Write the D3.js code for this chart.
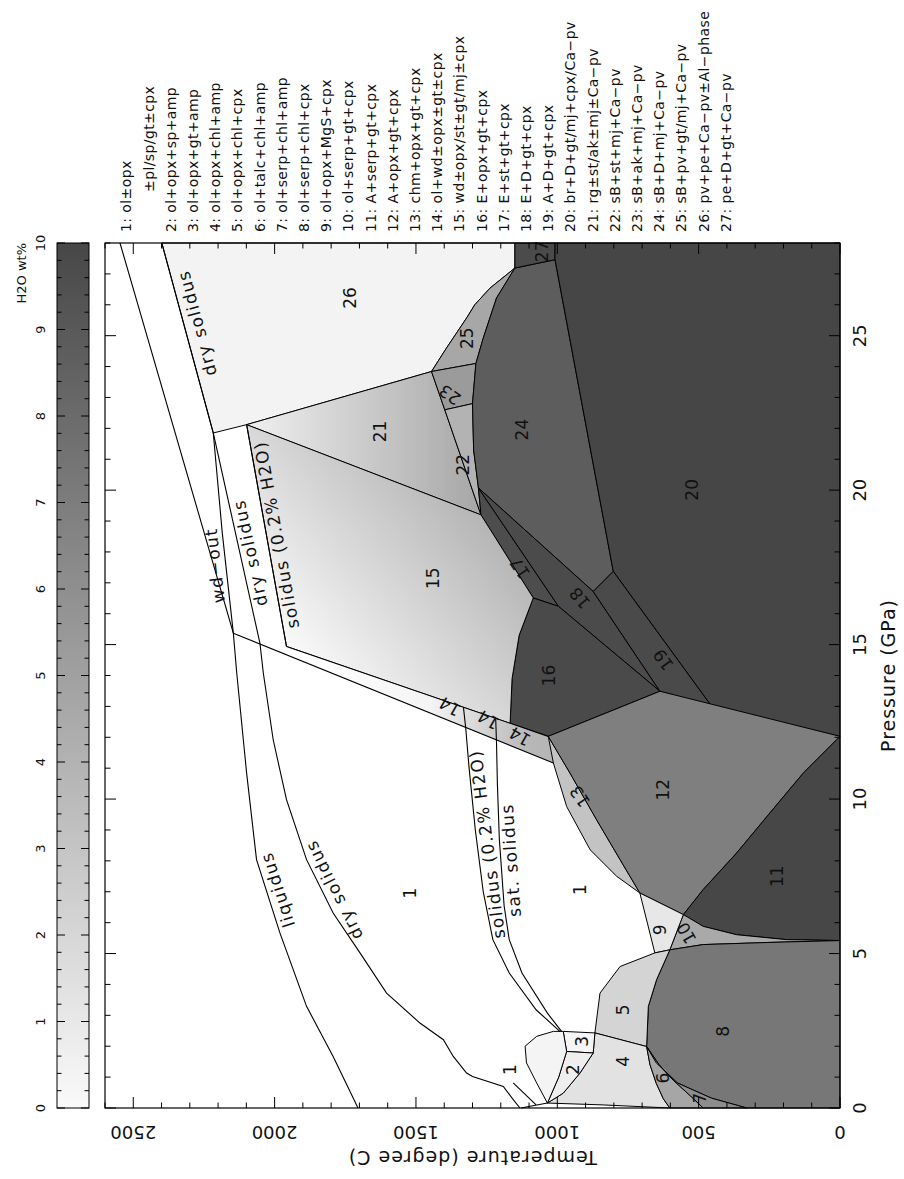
<!DOCTYPE html>
<html>
<head>
<meta charset="utf-8">
<title>Phase relations, H2O wt%</title>
<script src="https://d3js.org/d3.v7.min.js"></script>
<style>
  body { margin: 0; background: #fff; }
  svg { display: block; }
  text { font-family: "DejaVu Sans", sans-serif; fill: #111; }
</style>
</head>
<body>
<div id="chart"></div>
<script>
// all boundaries as [pressure GPa, temperature C]
const pressureTicks = [0, 5, 10, 15, 20, 25];
const temperatureTicks = [0, 500, 1000, 1500, 2000, 2500];
const waterTicks = [0, 1, 2, 3, 4, 5, 6, 7, 8, 9, 10];

const legendLines = [
  "1: ol±opx", "±pl/sp/gt±cpx",
  "2: ol+opx+sp+amp", "3: ol+opx+gt+amp", "4: ol+opx+chl+amp",
  "5: ol+opx+chl+cpx", "6: ol+talc+chl+amp", "7: ol+serp+chl+amp",
  "8: ol+serp+chl+cpx", "9: ol+opx+MgS+cpx", "10: ol+serp+gt+cpx",
  "11: A+serp+gt+cpx", "12: A+opx+gt+cpx", "13: chm+opx+gt+cpx",
  "14: ol+wd±opx±gt±cpx", "15: wd±opx/st±gt/mj±cpx", "16: E+opx+gt+cpx",
  "17: E+st+gt+cpx", "18: E+D+gt+cpx", "19: A+D+gt+cpx",
  "20: br+D+gt/mj+cpx/Ca−pv", "21: rg±st/ak±mj±Ca−pv", "22: sB+st+mj+Ca−pv",
  "23: sB+ak+mj+Ca−pv", "24: sB+D+mj+Ca−pv", "25: sB+pv+gt/mj+Ca−pv",
  "26: pv+pe+Ca−pv±Al−phase", "27: pe+D+gt+Ca−pv"
];

const liquidus = [[0,1705],[1.67,1793],[3.29,1887],[5.66,1981],[8.04,2064],[10.84,2099],[14.08,2134],[15.37,2146],[28,2547]];
const drySolidus = [[0,1132],[0.27,1156],[0.70,1191],[1.02,1300],[1.13,1321],[1.67,1368],[2.21,1403],[2.75,1486],[3.72,1604],[5.02,1698],[6.31,1793],[8.04,1887],[9.98,1958],[11.92,2005],[14.08,2040],[15.05,2052],[21.85,2217],[28,2399]];
const wdOut = [[15.37,2146],[18.6,2185],[21.85,2217]];
const solidusUpper = [[14.94,1958],[18.5,2028],[22.12,2099]];
const solidusLower = [[2.48,991],[3.18,1075],[4.37,1170],[5.45,1228],[7.0,1262],[9.0,1290],[11.0,1312],[12.3,1324],[12.97,1332]];
const satSolidus = [[2.48,985],[3.07,1035],[4.37,1125],[5.45,1170],[6.53,1188],[8.69,1205],[10.5,1212],[11.8,1215],[12.61,1218]];
const wedgeLineA = [[15.37,2146],[11.17,1014]];
const wedgeLineB = [[14.94,1958],[12.03,1032]];
const leaderOne = [[0.81,1156],[0.1,1075]];
const lensFoot = [[0.16,1035],[0,1128]];

const field20 = [[28,1008],[28,0],[12.03,0],[13.0,454],[17.37,802],[27.46,1008]];
const field27 = [[28,1150],[28,1008],[27.46,1008],[27.19,1150]];
const field24 = [[27.46,1008],[27.19,1150],[26.22,1215],[24.92,1262],[24.1,1288],[22.8,1300],[21.3,1296],[20.07,1279],[16.72,873],[17.37,802]];
const field25 = [[23.84,1445],[24.6,1392],[25.57,1321],[26.0,1292],[26.54,1238],[27.19,1150],[26.22,1215],[24.92,1262],[24.1,1288]];
const field23 = [[23.84,1445],[24.1,1288],[22.8,1300],[22.6,1398]];
const field22 = [[22.6,1398],[22.8,1300],[21.3,1296],[20.07,1279],[19.2,1270]];
const field21 = [[22.12,2099],[23.84,1445],[22.6,1398],[19.2,1270]];
const field26 = [[21.85,2217],[28,2399],[28,1150],[27.19,1150],[26.54,1238],[26.0,1292],[25.57,1321],[24.6,1392],[23.84,1445],[22.12,2099]];
const field17 = [[16.51,1085],[19.2,1270],[20.07,1279],[16.24,996]];
const field18 = [[20.07,1279],[16.72,873],[13.49,637],[16.24,996]];
const field19 = [[16.72,873],[17.37,802],[13.0,454],[13.49,637]];
const field16 = [[12.45,1167],[13.9,1160],[15.3,1135],[16.51,1085],[16.24,996],[13.49,637],[12.03,1032]];
const field15 = [[22.12,2099],[19.2,1270],[16.51,1085],[15.3,1135],[13.9,1160],[12.45,1167],[14.94,1958]];
const field14 = [[15.37,2146],[11.17,1014],[12.03,1032],[12.45,1167],[14.94,1958]];
const field12 = [[12.03,1032],[13.49,637],[12.03,0],[10.84,130],[9.55,248],[8.25,366],[7.07,484],[6.26,554],[6.96,708],[8.04,778],[9.33,861],[10.84,955]];
const field13 = [[11.17,1014],[12.03,1032],[10.84,955],[9.33,861],[8.04,778],[6.96,708],[7.5,790],[8.36,884],[9.76,967]];
const field11 = [[12.03,0],[10.84,130],[9.55,248],[8.25,366],[7.07,484],[6.26,554],[5.88,484],[5.61,366],[5.45,189],[5.42,0]];
const field10 = [[6.26,554],[5.88,484],[5.61,366],[5.45,189],[5.42,0],[5.36,248],[5.29,484],[5.12,602]];
const field9 = [[6.96,708],[6.26,554],[5.12,602],[5.02,655]];
const field8 = [[5.42,0],[5.36,248],[5.29,484],[5.12,602],[4.15,649],[3.29,678],[1.99,684],[1.46,650],[0.81,575],[0.32,455],[0,330],[0,0]];
const field5 = [[5.02,655],[4.58,778],[3.72,849],[2.43,867],[1.99,684],[3.29,678],[4.15,649],[5.12,602]];
const field4 = [[2.43,867],[1.99,684],[1.4,672],[0.8,650],[0.3,625],[0,602],[0.1,837],[0.16,1035],[0.48,979],[1.13,920],[1.78,873]];
const field6 = [[1.99,684],[1.4,672],[0.8,650],[0.3,625],[0,602],[0,484],[0.4,530],[0.9,590],[1.4,640]];
const field7 = [[1.99,684],[1.4,640],[0.9,590],[0.4,530],[0,484],[0,330],[0.32,455],[0.81,575],[1.46,650]];
const field3 = [[2.48,979],[2.43,867],[1.78,873],[1.83,967]];
const field2 = [[1.83,967],[1.78,873],[1.13,920],[0.48,979],[0.16,1035],[1.0,995]];
const fieldLens = [[2.48,979],[1.83,967],[1.0,995],[0.16,1035],[0.81,1073],[1.46,1109],[2.0,1114],[2.32,1073],[2.48,1014]];

// field number labels: [text, P, T]
const fieldLabels = [
  ["26",26.22,1734],["25",24.92,1321],["21",21.9,1628],["23",23.09,1380],["22",20.82,1333],
  ["15",17.15,1439],["14",13.0,1380],["14",12.57,1244],["14",12.03,1132],["27",27.73,1055],
  ["24",21.96,1126],["20",20.01,525],["17",17.48,1132],["18",16.51,920],["19",14.51,625],
  ["16",14.0,1030],["1",6.96,1522],["13",10.09,920],["12",10.3,625],["1",7.07,920],
  ["11",7.5,224],["9",5.77,637],["10",5.66,543],["5",3.18,767],["8",2.48,413],
  ["3",2.16,914],["4",1.51,767],["2",1.24,944],["6",0.97,625],["7",0.32,495],["1",1.24,1167]
];

// curve labels: [text, curve, P at centre]
const curveLabels = [
  ["liquidus", liquidus, 6.96],
  ["dry solidus", drySolidus, 6.9],
  ["dry solidus", drySolidus, 17.9],
  ["dry solidus", drySolidus, 25.3],
  ["wd−out", wdOut, 17.6],
  ["solidus (0.2% H2O)", solidusUpper, 18.5],
  ["solidus (0.2% H2O)", solidusLower, 8.5],
  ["sat. solidus", satSolidus, 8.0]
];

// ---------- styles ----------
const fieldFill = {
  "26":"#f3f3f3","21":"url(#g21)","25":"#a7a7a7","23":"#9b9b9b","22":"#b3b3b3","24":"#5d5d5d",
  "27":"#4b4b4b","20":"#464646","17":"#4d4d4d","18":"#4b4b4b","19":"#4a4a4a","16":"#4a4a4a",
  "15":"url(#g15)","14":"url(#g14)","13":"#c3c3c3","12":"#7f7f7f","11":"#474747","10":"#a9a9a9",
  "9":"#e7e7e7","8":"#777777","5":"#d4d4d4","4":"#e2e2e2","6":"#a6a6a6","7":"#8d8d8d",
  "3":"#f5f5f5","2":"#eeeeee","lens":"#f4f4f4"
};
const fieldOrder = [
  ["26",field26],["21",field21],["25",field25],["23",field23],["22",field22],["24",field24],
  ["27",field27],["20",field20],["17",field17],["18",field18],["19",field19],["16",field16],
  ["15",field15],["14",field14],["13",field13],["12",field12],["11",field11],["10",field10],
  ["9",field9],["8",field8],["5",field5],["4",field4],["6",field6],["7",field7],
  ["3",field3],["2",field2],["lens",fieldLens]
];
const labelTilt = {"13":-34,"10":-30,"17":-34,"18":-40,"19":-36,"23":-55,"14":-60};
const curveOffset = [11, 11, 10, 13, -11, 10, 10, 10];

// the chart is drawn landscape, then turned a quarter turn to fit the page
const W = 1179;
const svg = d3.select("#chart").append("svg").attr("width", 904).attr("height", 1179);
const defs = svg.append("defs");
const g = svg.append("g").attr("transform", `translate(0,${W}) rotate(-90)`);

const x = d3.scaleLinear().domain([0, 28]).range([71, 936]);
const y = d3.scaleLinear().domain([0, 2600]).range([840, 105]);
const cb = d3.scaleLinear().domain([0, 10]).range([71, 936]);

const line = d3.line().x(d => x(d[0])).y(d => y(d[1]));

function grad(id, p1, p2, stops) {
  const gr = defs.append("linearGradient").attr("id", id)
    .attr("gradientUnits", "userSpaceOnUse")
    .attr("x1", x(p1[0])).attr("y1", y(p1[1]))
    .attr("x2", x(p2[0])).attr("y2", y(p2[1]));
  stops.forEach(s => gr.append("stop").attr("offset", s[0]).attr("stop-color", s[1]));
}
grad("g15", [14, 1950], [19.5, 1250], [[0, "#ffffff"], [1, "#b2b2b2"]]);
grad("g21", [22, 2100], [22, 1300], [[0, "#f0f0f0"], [1, "#a9a9a9"]]);
grad("g14", [13.5, 1900], [12.3, 1080], [[0, "#ffffff"], [0.55, "#f4f4f4"], [1, "#b6b6b6"]]);

const cbg = defs.append("linearGradient").attr("id", "gcb")
  .attr("gradientUnits", "userSpaceOnUse")
  .attr("x1", cb(0)).attr("x2", cb(10)).attr("y1", 0).attr("y2", 0);
cbg.append("stop").attr("offset", 0).attr("stop-color", "#fafafa");
cbg.append("stop").attr("offset", 1).attr("stop-color", "#474747");

// plot background
g.append("rect").attr("x", x(0)).attr("y", y(2600))
  .attr("width", x(28) - x(0)).attr("height", y(0) - y(2600)).attr("fill", "#fff");

// fields
g.append("g").selectAll("path").data(fieldOrder).join("path")
  .attr("d", d => line(d[1]) + "Z")
  .attr("fill", d => fieldFill[d[0]])
  .attr("stroke", d => d[0] === "14" ? "none" : "#000")
  .attr("stroke-width", 1)
  .attr("stroke-linejoin", "round");

// boundary curves
const curves = [liquidus, drySolidus, wdOut, solidusUpper, solidusLower, satSolidus,
  wedgeLineA, wedgeLineB, leaderOne, lensFoot];
g.append("g").selectAll("path").data(curves).join("path")
  .attr("d", line).attr("fill", "none").attr("stroke", "#000").attr("stroke-width", 1.1);

// field numbers
g.append("g").selectAll("text").data(fieldLabels).join("text")
  .attr("transform", d => `translate(${x(d[1])},${y(d[2])}) rotate(${labelTilt[d[0]] || 0})`)
  .attr("text-anchor", "middle").attr("dy", "0.35em")
  .attr("font-size", 17).text(d => d[0]);

// curve labels, laid along their curve
function curveAt(c, p) {
  for (let i = 0; i < c.length - 1; i++) {
    const a = c[i], b = c[i + 1];
    if ((p - a[0]) * (p - b[0]) <= 0) {
      const t = (p - a[0]) / (b[0] - a[0]);
      const ang = Math.atan2(y(b[1]) - y(a[1]), x(b[0]) - x(a[0]));
      return { T: a[1] + t * (b[1] - a[1]), ang };
    }
  }
  return { T: c[c.length - 1][1], ang: 0 };
}
g.append("g").selectAll("text").data(curveLabels).join("text")
  .attr("transform", (d, i) => {
    const c = curveAt(d[1], d[2]);
    const deg = c.ang * 180 / Math.PI;
    const off = curveOffset[i];
    const px = x(d[2]) - off * Math.sin(c.ang);
    const py = y(c.T) + off * Math.cos(c.ang);
    return `translate(${px},${py}) rotate(${deg})`;
  })
  .attr("text-anchor", "middle").attr("dy", "0.35em")
  .attr("font-size", 17).attr("letter-spacing", 1.5).text(d => d[0]);

// frame and ticks (inside, all four sides)
g.append("rect").attr("x", x(0)).attr("y", y(2600))
  .attr("width", x(28) - x(0)).attr("height", y(0) - y(2600))
  .attr("fill", "none").attr("stroke", "#000").attr("stroke-width", 1.2);

const ticks = g.append("g").attr("stroke", "#000").attr("stroke-width", 1);
d3.range(0, 29).forEach(p => {
  const len = p % 5 === 0 ? 11 : 5.5;
  ticks.append("line").attr("x1", x(p)).attr("x2", x(p)).attr("y1", y(0)).attr("y2", y(0) - len);
  ticks.append("line").attr("x1", x(p)).attr("x2", x(p)).attr("y1", y(2600)).attr("y2", y(2600) + len);
});
d3.range(0, 2601, 100).forEach(t => {
  const len = t % 500 === 0 ? 11 : 5.5;
  ticks.append("line").attr("x1", x(0)).attr("x2", x(0) + len).attr("y1", y(t)).attr("y2", y(t));
  ticks.append("line").attr("x1", x(28)).attr("x2", x(28) - len).attr("y1", y(t)).attr("y2", y(t));
});

// axis labels
g.append("g").selectAll("text").data(pressureTicks).join("text")
  .attr("x", d => x(d)).attr("y", 860).attr("dy", "0.35em")
  .attr("text-anchor", "middle").attr("font-size", 18).text(d => d);
g.append("g").selectAll("text").data(temperatureTicks).join("text")
  .attr("transform", d => `translate(47,${y(d)}) rotate(-90)`)
  .attr("dy", "0.35em").attr("text-anchor", "middle").attr("font-size", 18).text(d => d);
g.append("text").attr("x", (x(0) + x(28)) / 2).attr("y", 888).attr("dy", "0.35em")
  .attr("text-anchor", "middle").attr("font-size", 19).attr("letter-spacing", 1)
  .text("Pressure (GPa)");
g.append("text").attr("transform", `translate(21,${(y(0) + y(2600)) / 2}) rotate(-90)`)
  .attr("dy", "0.35em").attr("text-anchor", "middle").attr("font-size", 19).attr("letter-spacing", 1)
  .text("Temperature (degree C)");

// colour bar
g.append("rect").attr("x", cb(0)).attr("y", 57).attr("width", cb(10) - cb(0)).attr("height", 32)
  .attr("fill", "url(#gcb)").attr("stroke", "#000").attr("stroke-width", 1);
const cbt = g.append("g").attr("stroke", "#000").attr("stroke-width", 1);
d3.range(0, 51).forEach(i => {
  const v = i / 5, len = i % 5 === 0 ? 8 : 4.5;
  cbt.append("line").attr("x1", cb(v)).attr("x2", cb(v)).attr("y1", 57).attr("y2", 57 + len);
  cbt.append("line").attr("x1", cb(v)).attr("x2", cb(v)).attr("y1", 89).attr("y2", 89 - len);
});
g.append("g").selectAll("text").data(waterTicks).join("text")
  .attr("x", d => cb(d)).attr("y", 40).attr("dy", "0.35em")
  .attr("text-anchor", "middle").attr("font-size", 13).text(d => d);
g.append("text").attr("x", cb(10)).attr("y", 21).attr("dy", "0.35em")
  .attr("text-anchor", "end").attr("font-size", 13).text("H2O wt%");

// legend
g.append("g").selectAll("text").data(legendLines).join("text")
  .attr("x", d => d.startsWith("±") ? 987 : 947)
  .attr("y", (d, i) => 126.5 + i * 22.2).attr("dy", "0.35em")
  .attr("font-size", 14).attr("letter-spacing", 0.4).text(d => d);
</script>
</body>
</html>
